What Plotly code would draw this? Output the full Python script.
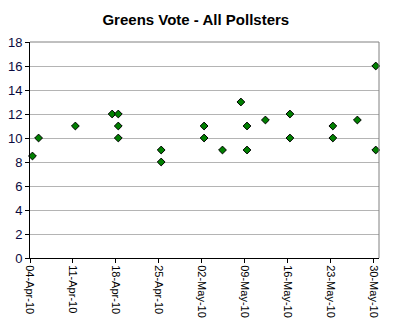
import datetime as dt
import plotly.graph_objects as go

# Poll dates and Greens primary vote (%)
poll_dates = [
    "2010-04-04", "2010-04-05", "2010-04-11", "2010-04-17", "2010-04-18",
    "2010-04-18", "2010-04-18", "2010-04-25", "2010-04-25", "2010-05-02",
    "2010-05-02", "2010-05-05", "2010-05-08", "2010-05-09", "2010-05-09",
    "2010-05-12", "2010-05-16", "2010-05-16", "2010-05-23", "2010-05-23",
    "2010-05-27", "2010-05-30", "2010-05-30",
]
greens_vote = [
    8.5, 10, 11, 12, 12,
    11, 10, 9, 8, 11,
    10, 9, 13, 11, 9,
    11.5, 12, 10, 11, 10,
    11.5, 16, 9,
]

tick_dates = ["2010-04-04", "2010-04-11", "2010-04-18", "2010-04-25", "2010-05-02",
              "2010-05-09", "2010-05-16", "2010-05-23", "2010-05-30"]
tick_labels = ["04-Apr-10", "11-Apr-10", "18-Apr-10", "25-Apr-10", "02-May-10",
               "09-May-10", "16-May-10", "23-May-10", "30-May-10"]
y_ticks = list(range(0, 19, 2))

# Date-axis categories sit slightly right of their tick mark
shift = dt.timedelta(hours=9.6)
tick_pos = [dt.datetime.fromisoformat(d) - shift for d in tick_dates]
x_start = dt.datetime(2010, 4, 4) - shift
x_end = x_start + dt.timedelta(days=56.93)

fig = go.Figure()
fig.add_trace(go.Scatter(
    x=poll_dates, y=greens_vote, mode="markers",
    marker=dict(symbol="diamond", size=6, color="#008000",
                line=dict(color="#000000", width=1)),
    showlegend=False, cliponaxis=False,
))

# Grey frame on the top and right of the plot area
fig.add_shape(type="line", xref="paper", yref="paper", x0=0, x1=1, y0=1, y1=1,
              line=dict(color="#808080", width=1))
fig.add_shape(type="line", xref="paper", yref="paper", x0=1, x1=1, y0=0, y1=1,
              line=dict(color="#808080", width=1))

fig.update_layout(
    width=394, height=324,
    margin=dict(l=30, r=15, t=42, b=66),
    paper_bgcolor="#ffffff", plot_bgcolor="#ffffff",
    font=dict(family="Liberation Sans, Arial, sans-serif", color="#000000"),
    title=dict(text="<b>Greens Vote - All Pollsters</b>", x=0.497, xanchor="center",
               y=0.938, yanchor="middle", font=dict(size=15, color="#000000")),
    xaxis=dict(
        type="date", range=[x_start, x_end], automargin=False,
        tickmode="array", tickvals=tick_pos, ticktext=tick_labels,
        tickangle=90, tickfont=dict(size=11, color="#000000"),
        ticks="outside", ticklen=4, tickcolor="#000000",
        showgrid=False, zeroline=False,
        showline=True, linecolor="#000000", linewidth=1,
    ),
    yaxis=dict(
        range=[0, 18], tickmode="array", tickvals=y_ticks, automargin=False,
        tickfont=dict(size=13, color="#0a0a40"),
        ticks="outside", ticklen=4, tickcolor="#000000",
        showgrid=True, gridcolor="#b4b4b4", gridwidth=1,
        zeroline=False, showline=True, linecolor="#000000", linewidth=1,
    ),
)

fig.write_html("out.html")
